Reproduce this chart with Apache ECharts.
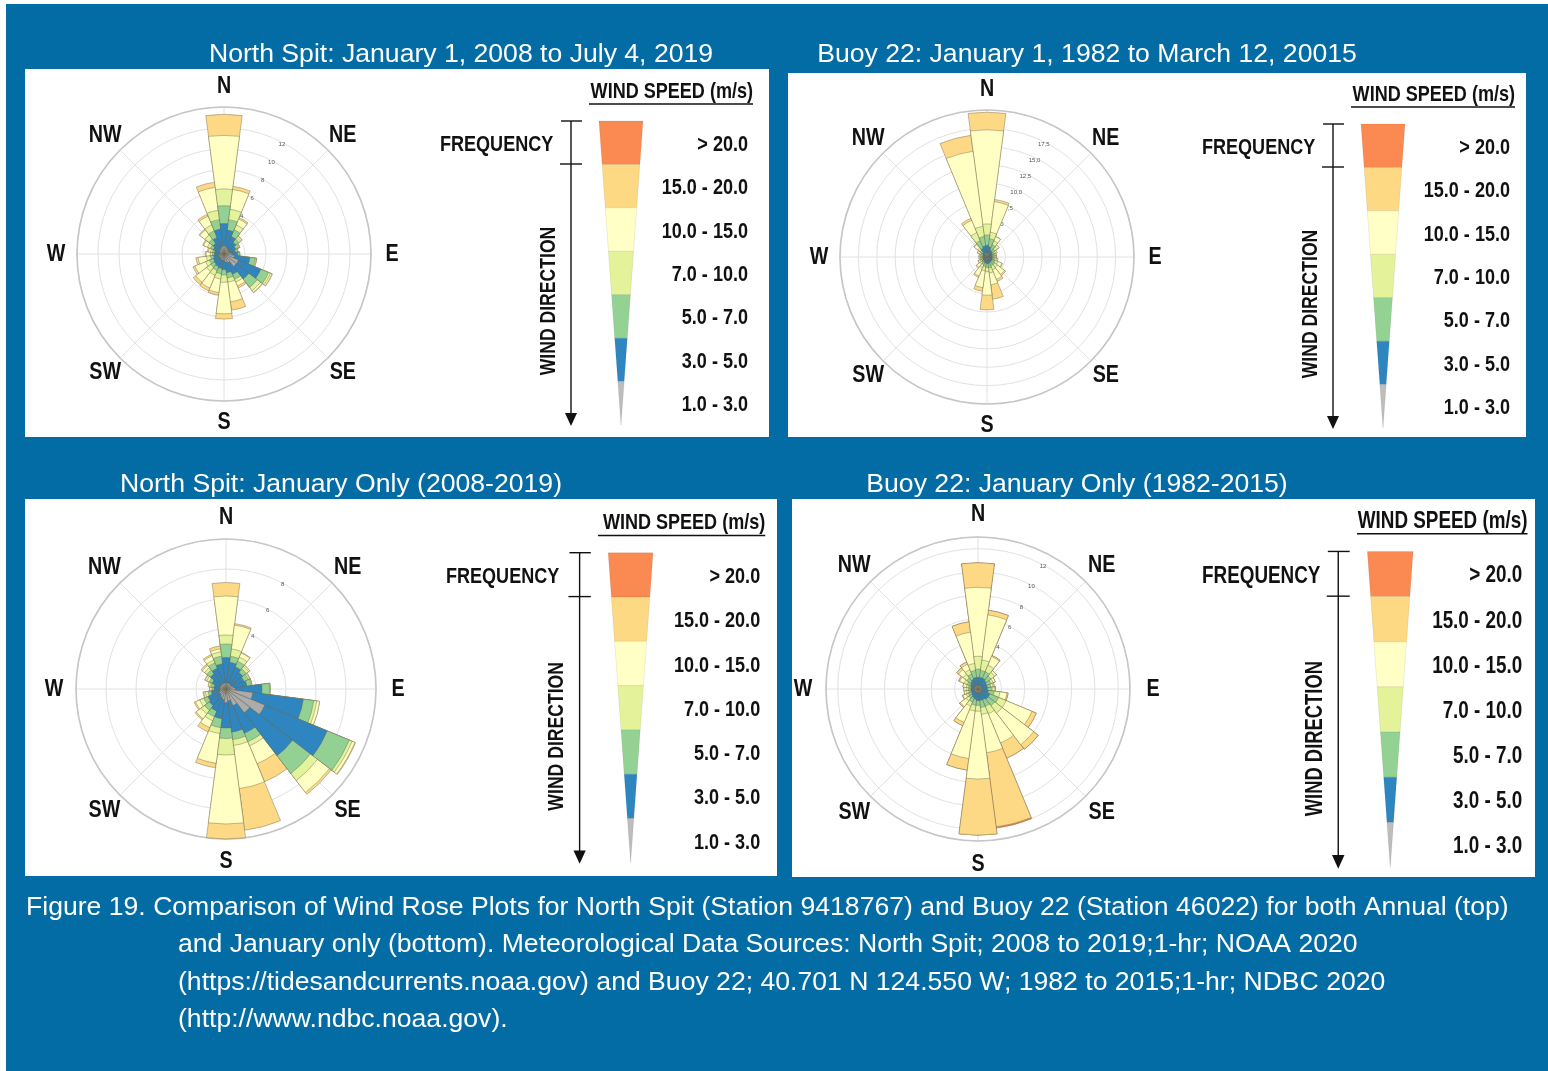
<!DOCTYPE html>
<html><head><meta charset="utf-8">
<script src="https://cdn.jsdelivr.net/npm/echarts@6/dist/echarts.min.js"></script>
<style>html,body{margin:0;padding:0;background:#fff;}#c{width:1548px;height:1071px;}</style>
</head><body><div id="c"></div><script>
// ---------- data ----------
const BEARINGS = ['0','15','30','45','60','75','90','105','120','135','150','165','180','195','210','225','240','255','270','285','300','315','330','345'];
const COMPASS = ['N','NE','E','SE','S','SW','W','NW'];
const COMPASS_ANGLES = [0,45,90,135,180,225,270,315];
const SPEED_LABELS = ['> 20.0','15.0 - 20.0','10.0 - 15.0','7.0 - 10.0','5.0 - 7.0','3.0 - 5.0','1.0 - 3.0'];
const TITLES = ['North Spit: January 1, 2008 to July 4, 2019','Buoy 22: January 1, 1982 to March 12, 20015','North Spit: January Only (2008-2019)','Buoy 22: January Only (1982-2015)'];
const CAPTION = [
 'Figure 19. Comparison of Wind Rose Plots for North Spit (Station 9418767) and Buoy 22 (Station 46022) for both Annual (top)',
 'and January only (bottom). Meteorological Data Sources: North Spit; 2008 to 2019;1-hr; NOAA 2020',
 '(https://tidesandcurrents.noaa.gov) and Buoy 22; 40.701 N 124.550 W; 1982 to 2015;1-hr; NDBC 2020',
 '(http://www.ndbc.noaa.gov).'];

// cumulative frequency (%) at the upper edge of each speed class, per 15-degree bearing
// Panel 1: North Spit annual
const P1_UP3  = [0.8,0.7,0.6,0.5,0.5,0.5,0.7,1.0,1.5,1.5,0.9,0.8,0.6,0.6,0.5,0.5,0.5,0.5,0.4,0.4,0.5,0.5,0.6,0.7];
const P1_UP5  = [2.9,2.3,1.8,1.4,1.2,1.1,1.3,2.5,3.8,3.0,2.1,1.8,1.5,1.4,1.3,1.2,1.1,1.0,0.9,0.9,1.1,1.3,1.7,2.4];
const P1_UP7  = [4.6,3.3,2.5,1.8,1.5,1.3,1.45,3.0,4.6,4.0,2.6,2.3,2.0,1.9,1.7,1.6,1.5,1.3,1.1,1.1,1.4,1.8,2.4,3.3];
const P1_UP10 = [6.2,4.3,3.0,2.0,1.6,1.35,1.5,3.1,4.8,4.4,2.9,2.7,2.7,2.4,2.2,2.1,1.9,1.7,1.3,1.3,1.7,2.3,3.0,4.2];
const P1_UP15 = [11.3,6.2,3.6,2.15,1.65,1.35,1.5,3.15,4.95,4.6,3.3,4.6,5.7,3.7,3.5,3.4,3.0,2.5,1.7,1.5,2.1,2.9,3.9,6.4];
const P1_UP20 = [13.3,6.5,3.75,2.2,1.65,1.35,1.5,3.15,5.0,4.65,3.5,5.4,6.2,3.95,3.8,3.7,3.2,2.7,1.8,1.6,2.2,3.0,4.1,6.9];
// Panel 2: Buoy 22 annual
const P2_UP3  = [0.5,0.5,0.4,0.4,0.3,0.3,0.3,0.3,0.3,0.3,0.3,0.4,0.4,0.4,0.3,0.3,0.3,0.3,0.3,0.3,0.3,0.3,0.5,0.5];
const P2_UP5  = [1.6,1.4,1.0,0.9,0.8,0.7,0.7,0.7,0.8,0.8,0.8,0.9,0.9,0.8,0.7,0.6,0.6,0.5,0.5,0.5,0.6,0.8,1.3,1.5];
const P2_UP7  = [3.0,2.5,1.8,1.4,1.1,1.0,1.0,1.0,1.2,1.3,1.3,1.5,1.4,1.3,1.1,0.9,0.8,0.7,0.7,0.7,0.9,1.2,2.4,2.8];
const P2_UP10 = [4.5,3.4,2.4,1.8,1.3,1.2,1.2,1.3,1.6,1.8,1.9,2.2,2.0,1.9,1.6,1.2,1.0,0.9,0.9,0.9,1.1,1.6,3.6,4.2];
const P2_UP15 = [17.3,7.6,3.0,2.1,1.5,1.3,1.3,1.5,2.2,3.0,3.3,3.8,5.2,4.2,2.8,1.8,1.3,1.1,1.1,1.1,1.4,2.2,5.4,14.5];
const P2_UP20 = [19.7,7.9,3.05,2.1,1.5,1.3,1.3,1.5,2.3,3.2,3.6,5.8,7.2,4.7,3.0,1.9,1.35,1.1,1.1,1.1,1.45,2.3,5.7,16.7];
// Panel 3: North Spit January
const P3_UP3  = [0.4,0.4,0.4,0.4,0.4,0.5,0.6,1.8,2.8,2.0,1.2,0.8,0.9,0.7,0.6,0.5,0.5,0.4,0.4,0.4,0.4,0.4,0.4,0.4];
const P3_UP5  = [2.1,1.8,1.6,1.4,1.3,1.4,2.4,5.2,7.3,5.6,3.2,2.9,2.6,2.0,1.6,1.4,1.3,1.0,0.8,0.8,1.0,1.3,1.5,1.7];
const P3_UP7  = [3.0,2.2,2.0,1.7,1.6,1.7,2.9,5.9,8.9,7.1,3.8,3.4,3.3,2.6,2.0,1.8,1.6,1.2,0.9,1.0,1.2,1.6,1.9,2.2];
const P3_UP10 = [3.6,2.7,2.3,1.9,1.7,1.75,2.95,6.1,9.1,7.7,4.1,3.8,4.4,3.0,2.3,2.1,1.9,1.4,1.0,1.1,1.4,1.8,2.1,2.5];
const P3_UP15 = [6.2,4.3,2.6,2.0,1.75,1.75,2.95,6.3,9.3,8.7,5.4,6.7,9.0,5.0,2.8,2.5,2.2,1.5,1.1,1.2,1.5,2.0,2.4,2.7];
const P3_UP20 = [7.1,4.4,2.65,2.0,1.75,1.75,2.95,6.3,9.35,8.85,6.7,9.5,10.0,5.3,3.1,2.6,2.3,1.55,1.1,1.2,1.55,2.1,2.5,2.9];
// Panel 4: Buoy 22 January
const P4_UP3  = [0.3,0.3,0.3,0.3,0.3,0.3,0.3,0.3,0.3,0.3,0.3,0.3,0.3,0.3,0.3,0.3,0.3,0.3,0.3,0.3,0.3,0.3,0.3,0.3];
const P4_UP5  = [1.0,1.0,1.0,0.9,0.8,0.8,0.8,0.9,1.1,1.1,1.0,1.0,1.0,0.9,0.8,0.7,0.6,0.6,0.6,0.6,0.7,0.8,0.9,1.0];
const P4_UP7  = [1.7,1.6,1.6,1.4,1.2,1.1,1.2,1.4,1.9,1.8,1.6,1.6,1.4,1.4,1.2,1.0,0.9,0.8,0.8,0.8,1.0,1.2,1.4,1.6];
const P4_UP10 = [2.8,2.5,2.2,1.8,1.4,1.3,1.4,1.9,2.6,2.6,2.3,2.2,1.9,1.9,1.6,1.3,1.1,1.0,1.0,1.0,1.3,1.6,1.8,2.2];
const P4_UP15 = [8.7,6.4,3.0,2.0,1.6,1.4,1.5,2.5,5.0,6.0,5.0,5.5,7.7,6.0,3.1,1.9,1.4,1.2,1.2,1.3,1.7,2.1,2.3,4.9];
const P4_UP20 = [10.8,6.8,3.1,2.0,1.6,1.4,1.5,2.6,5.4,6.5,6.4,11.9,12.5,7.0,3.4,2.0,1.45,1.2,1.2,1.3,1.8,2.3,2.5,5.8];
const P4_ALL  = [10.8,6.8,3.1,2.0,1.6,1.4,1.5,2.6,5.4,6.5,6.4,12.0,12.5,7.0,3.4,2.0,1.45,1.2,1.2,1.3,1.8,2.3,2.5,5.8];

// ---------- style ----------
const SANS = '"Liberation Sans",Arial,Helvetica,sans-serif';
const BG = '#046ca4';
const ROSE_COLORS = ['#f98c52','#fdd985','#ffffc4','#e3f29c','#92d193','#2e85c0','#acacac'];
const LEG_COLORS  = ['#fa8a52','#fdd984','#ffffc6','#e4f39a','#94d293','#2e86c0','#bdbdbd'];
const NARROW_X = 0.82, NUM_X = 0.82;
const WHITE_FONT = '26.6px ' + SANS;

const PANELS = [
 {box:[25,69,769,437], title:[461,55], center:[224,254], R:147, labelDist:168, max:14, interval:2,
  fmt:v=>(v>=4&&v<=12)?String(v):'', cls:[null,P1_UP20,P1_UP15,P1_UP10,P1_UP7,P1_UP5,P1_UP3], leg:[440,85,1.0]},
 {box:[788,73,1526,437], title:[1087,55], center:[987,257], R:147, labelDist:168, max:20, interval:2.5,
  fmt:v=>(v>0&&v<20)?v.toFixed(1).replace('.',','):'', cls:[null,P2_UP20,P2_UP15,P2_UP10,P2_UP7,P2_UP5,P2_UP3], leg:[1202,88,1.0]},
 {box:[25,499,777,876], title:[341,485], center:[226,689], R:150, labelDist:172, max:10, interval:2,
  fmt:v=>(v>=4&&v<=8)?String(v):'', cls:[null,P3_UP20,P3_UP15,P3_UP10,P3_UP7,P3_UP5,P3_UP3], leg:[446,516,1.02]},
 {box:[792,499,1535,877], title:[1077,485], center:[978,689], R:152, labelDist:175, max:13, interval:2,
  fmt:v=>(v>=4&&v<=12)?String(v):'', cls:[P4_ALL,P4_UP20,P4_UP15,P4_UP10,P4_UP7,P4_UP5,P4_UP3], leg:[1202,514,1.04]}
];

const polar=[], angleAxis=[], radiusAxis=[], series=[];
const graphic=[];
graphic.push({type:'rect', z:-10, shape:{x:6,y:4,width:1542,height:1067}, style:{fill:BG}});

function txt(x,y,text,font,align,sx,extra){
  return Object.assign({type:'text', x:x, y:y, scaleX:sx||1, style:{text:text, fill:'#111', font:font, textAlign:align, textVerticalAlign:'middle'}}, extra||{});
}

PANELS.forEach((p,k)=>{
  const [x0,y0,x1,y1]=p.box;
  graphic.push({type:'rect', z:-9, shape:{x:x0,y:y0,width:x1-x0,height:y1-y0}, style:{fill:'#fff'}});
  graphic.push({type:'text', z:5, x:p.title[0], y:p.title[1], style:{text:TITLES[k], fill:'#fff', font:WHITE_FONT, textAlign:'center', textVerticalAlign:'middle'}});
  const b=polar.length;
  p.gridIndex=b;
  // grid polar
  polar.push({center:p.center, radius:p.R});
  angleAxis.push({polarIndex:b, type:'value', min:0, max:360, interval:45, startAngle:90, clockwise:true,
    axisLine:{show:true,lineStyle:{color:'#c6c6c6',width:1.6}}, axisTick:{show:false},
    splitLine:{show:true,lineStyle:{color:'#e2e2e2',width:1}}, axisLabel:{show:false}});
  radiusAxis.push({polarIndex:b, type:'value', min:0, max:p.max, interval:p.interval,
    axisLine:{show:false}, axisTick:{show:false}, axisLabel:{show:false},
    splitLine:{show:true,lineStyle:{color:'#e2e2e2',width:1}}});
  // ring-label polar
  polar.push({center:p.center, radius:p.R});
  angleAxis.push({polarIndex:b+1, type:'value', min:0, max:360, startAngle:60, clockwise:true, show:false});
  radiusAxis.push({polarIndex:b+1, type:'value', min:0, max:p.max, interval:p.interval,
    axisLine:{show:false}, axisTick:{show:false}, splitLine:{show:false},
    axisLabel:{show:true, fontSize:6, color:'#555', margin:2, formatter:p.fmt}});
  // data polar
  polar.push({center:p.center, radius:p.R});
  angleAxis.push({polarIndex:b+2, type:'category', data:BEARINGS, startAngle:97.5, clockwise:true, boundaryGap:true, show:false});
  radiusAxis.push({polarIndex:b+2, type:'value', min:0, max:p.max, show:false});
  p.cls.forEach((arr,i)=>{
    if(!arr) return;
    series.push({type:'bar', coordinateSystem:'polar', polarIndex:b+2, name:SPEED_LABELS[i], data:arr,
      barGap:'-100%', barCategoryGap:'0%', silent:true,
      itemStyle:{color:ROSE_COLORS[i], borderColor:'rgba(105,98,72,0.7)', borderWidth:0.6}});
  });
  // legend graphic (local layout, scaled)
  const [ox,oy,s]=p.leg;
  const X=v=>ox+v*s, Y=v=>oy+v*s;
  const f='bold '+Math.round(22*s)+'px '+SANS;
  graphic.push(txt(X(313),Y(7),'WIND SPEED (m/s)',f,'right',NARROW_X));
  graphic.push({type:'line', shape:{x1:X(149),y1:Y(19),x2:X(313),y2:Y(19)}, style:{stroke:'#111',lineWidth:1.5}});
  graphic.push(txt(X(0),Y(60),'FREQUENCY',f,'left',NARROW_X));
  graphic.push({type:'line', shape:{x1:X(131),y1:Y(36),x2:X(131),y2:Y(330)}, style:{stroke:'#111',lineWidth:1.4}});
  graphic.push({type:'line', shape:{x1:X(121),y1:Y(36),x2:X(142),y2:Y(36)}, style:{stroke:'#111',lineWidth:1.4}});
  graphic.push({type:'line', shape:{x1:X(120),y1:Y(79),x2:X(142),y2:Y(79)}, style:{stroke:'#111',lineWidth:1.4}});
  graphic.push({type:'polygon', shape:{points:[[X(125),Y(328)],[X(137),Y(328)],[X(131),Y(341)]]}, style:{fill:'#111'}});
  graphic.push(txt(X(109),Y(216),'WIND DIRECTION',f,'center',0.8,{rotation:Math.PI/2}));
  const top=36, tip=340, cx=181, hw0=22, seg=(tip-top)/7;
  const hw=y=>hw0*(tip-y)/(tip-top);
  SPEED_LABELS.forEach((lab,i)=>{
    const ya=top+i*seg, yb=top+(i+1)*seg;
    const pts=[[X(cx-hw(ya)),Y(ya)],[X(cx+hw(ya)),Y(ya)],[X(cx+hw(yb)),Y(yb)],[X(cx-hw(yb)),Y(yb)]];
    graphic.push({type:'polygon', shape:{points:pts}, style:{fill:LEG_COLORS[i], stroke:'rgba(0,0,0,0.12)', lineWidth:0.6}});
    graphic.push(txt(X(308),Y(ya+seg/2+2),lab,f,'right',NUM_X));
  });
});

CAPTION.forEach((t,i)=>{
  graphic.push({type:'text', x:i===0?26:178, y:[908,945,983,1020][i], style:{text:t, fill:'#fff', font:WHITE_FONT, textAlign:'left', textVerticalAlign:'middle'}});
});

const chart=echarts.init(document.getElementById('c'),null,{renderer:'canvas'});
chart.setOption({animation:false, backgroundColor:'#fff', polar, angleAxis, radiusAxis, series, graphic});

// compass labels placed through the grid polar's own coordinate conversion
PANELS.forEach(p=>{
  const rVal=p.max*p.labelDist/p.R;
  COMPASS.forEach((c,i)=>{
    const pt=chart.convertToPixel({polarIndex:p.gridIndex},[rVal,COMPASS_ANGLES[i]]);
    graphic.push(txt(pt[0],pt[1],c,'bold 24px '+SANS,'center',NARROW_X));
  });
});
chart.setOption({graphic});
</script></body></html>
